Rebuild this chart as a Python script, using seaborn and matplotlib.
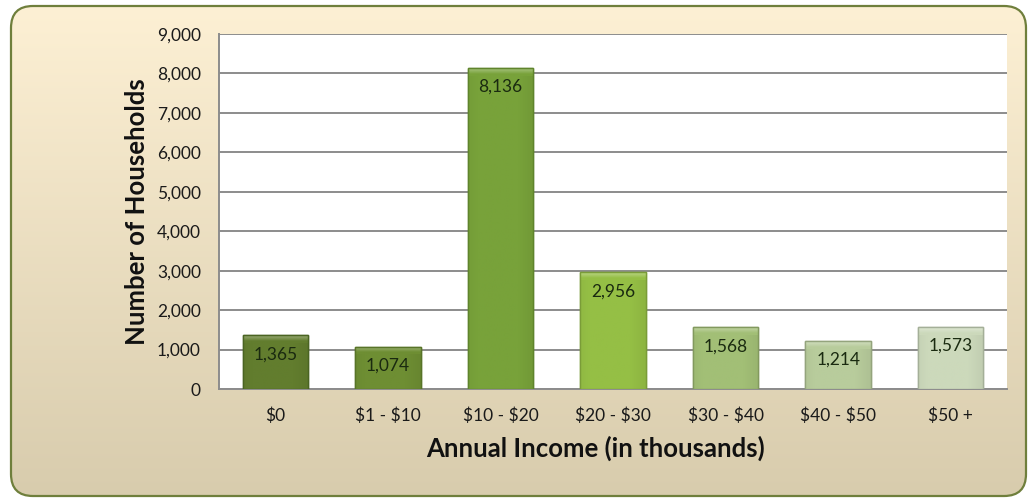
import numpy as np
import pandas as pd
import matplotlib
matplotlib.use("Agg")
import matplotlib.pyplot as plt
import matplotlib.colors as mcolors
import seaborn as sns
from matplotlib.patches import FancyBboxPatch
from matplotlib.ticker import FuncFormatter

categories = ["$0", "$1 - $10", "$10 - $20", "$20 - $30", "$30 - $40", "$40 - $50", "$50 +"]
households = [1365, 1074, 8136, 2956, 1568, 1214, 1573]
bar_colors = ["#627d2e", "#6e8e33", "#78a23a", "#95bf45", "#a2bf76", "#b8cc9c", "#ccd9bb"]
edge_colors = ["#4a6422", "#587428", "#5f842c", "#7a9c38", "#82995e", "#94a47d", "#a4af98"]
y_ticks = [0, 1000, 2000, 3000, 4000, 5000, 6000, 7000, 8000, 9000]

sns.set_theme(style="white")
plt.rcParams['font.family'] = ['Lato', 'DejaVu Sans']
plt.rcParams['text.parse_math'] = False

W, H = 1029, 501
fig = plt.figure(figsize=(W / 100, H / 100), dpi=100)

# background panel with gradient
bg = fig.add_axes([0, 0, 1, 1])
bg.set_xlim(0, W)
bg.set_ylim(0, H)
bg.axis("off")
grad = np.linspace(0, 1, 256).reshape(-1, 1)
top_c = np.array(mcolors.to_rgb("#fdf0d4"))
bot_c = np.array(mcolors.to_rgb("#d8ccad"))
img = top_c[None, None, :] * (1 - grad[:, :, None]) + bot_c[None, None, :] * grad[:, :, None]
im = bg.imshow(img, extent=[11, 1026, 5, 495], aspect="auto", origin="upper", zorder=1)
clip = FancyBboxPatch((11, 5), 1015, 490, boxstyle="round,pad=0,rounding_size=22",
                      facecolor="none", edgecolor="none", transform=bg.transData)
bg.add_patch(clip)
im.set_clip_path(clip)
panel = FancyBboxPatch((11, 5), 1015, 490, boxstyle="round,pad=0,rounding_size=22",
                       facecolor="none", edgecolor="#6f7f3c", linewidth=1.6, zorder=3)
bg.add_patch(panel)

# main axes
left, right, top, bottom = 219, 1007, 34, 389
ax = fig.add_axes([left / W, 1 - bottom / H, (right - left) / W, (bottom - top) / H])
ax.set_facecolor("white")

df = pd.DataFrame({"Income": categories, "Households": households})
sns.barplot(data=df, x="Income", y="Households", hue="Income", palette=bar_colors,
            legend=False, width=0.58, ax=ax, zorder=3, saturation=1)

ax.set_ylim(0, 9000)
ax.set_xlim(-0.5, len(categories) - 0.5)

# subtle bevel shading on each bar
for p, c, ec in zip(ax.patches, bar_colors, edge_colors):
    p.set_edgecolor(ec)
    p.set_linewidth(1.0)
    x0, y0 = p.get_x(), p.get_y()
    w, h = p.get_width(), p.get_height()
    base = np.array(mcolors.to_rgb(c))
    light = base + (1 - base) * 0.25
    dark = base * 0.88
    n = 64
    xs = np.linspace(0, 1, n)
    hprof = 1 - 0.6 * np.abs(xs - 0.45) * 2
    hprof = np.clip(hprof, 0, 1)
    shade = np.zeros((1, n, 3))
    for k in range(n):
        shade[0, k] = dark + (base - dark) * min(1, hprof[k] * 1.6)
    gbar = ax.imshow(shade, extent=[x0, x0 + w, y0, y0 + h], aspect="auto",
                     zorder=3.5, interpolation="bilinear")
    gbar.set_clip_path(p)
    band = 9000 * 0.022
    top_img = np.zeros((2, 1, 3))
    top_img[0, 0] = light
    top_img[1, 0] = base
    tb = ax.imshow(top_img, extent=[x0, x0 + w, y0 + h - band, y0 + h], aspect="auto",
                   zorder=3.6, interpolation="bilinear", origin="upper")
    tb.set_clip_path(p)
    ax.add_patch(matplotlib.patches.Rectangle((x0, y0), w, h, fill=False,
                                              edgecolor=ec, linewidth=1.0, zorder=3.8))

ax.set_ylim(0, 9000)
ax.set_xlim(-0.5, len(categories) - 0.5)
ax.set_yticks(y_ticks)
ax.yaxis.set_major_formatter(FuncFormatter(lambda v, _: f"{int(v):,}"))
ax.yaxis.grid(True, color="#8c8c8c", linewidth=1.4, zorder=0)
ax.set_axisbelow(True)
for s in ["top", "right"]:
    ax.spines[s].set_visible(False)
for s in ["left", "bottom"]:
    ax.spines[s].set_color("#8c8c8c")
    ax.spines[s].set_linewidth(1.4)
ax.tick_params(axis="both", length=0, labelsize=12.5, colors="#1a1a1a")
ax.tick_params(axis="y", pad=13)
ax.tick_params(axis="x", pad=13)

for i, v in enumerate(households):
    ax.annotate(f"{v:,}", xy=(i, v), xytext=(0, -19), textcoords="offset pixels",
                ha="center", va="center", fontsize=12.5, color="#1a2a10", zorder=5)

ax.set_xlabel("Annual Income (in thousands)", fontsize=18.5, fontweight="bold",
              color="#111111")
ax.set_ylabel("Number of Households", fontsize=18.5, fontweight="bold",
              color="#111111")
ax.xaxis.set_label_coords((596 - left) / (right - left), -(448 - bottom) / (bottom - top))
ax.xaxis.label.set_va("center")
ax.yaxis.set_label_coords(-(left - 137) / (right - left), (389 - 212) / (bottom - top))
ax.yaxis.label.set_va("center")

fig.savefig("out.png", dpi=100)
